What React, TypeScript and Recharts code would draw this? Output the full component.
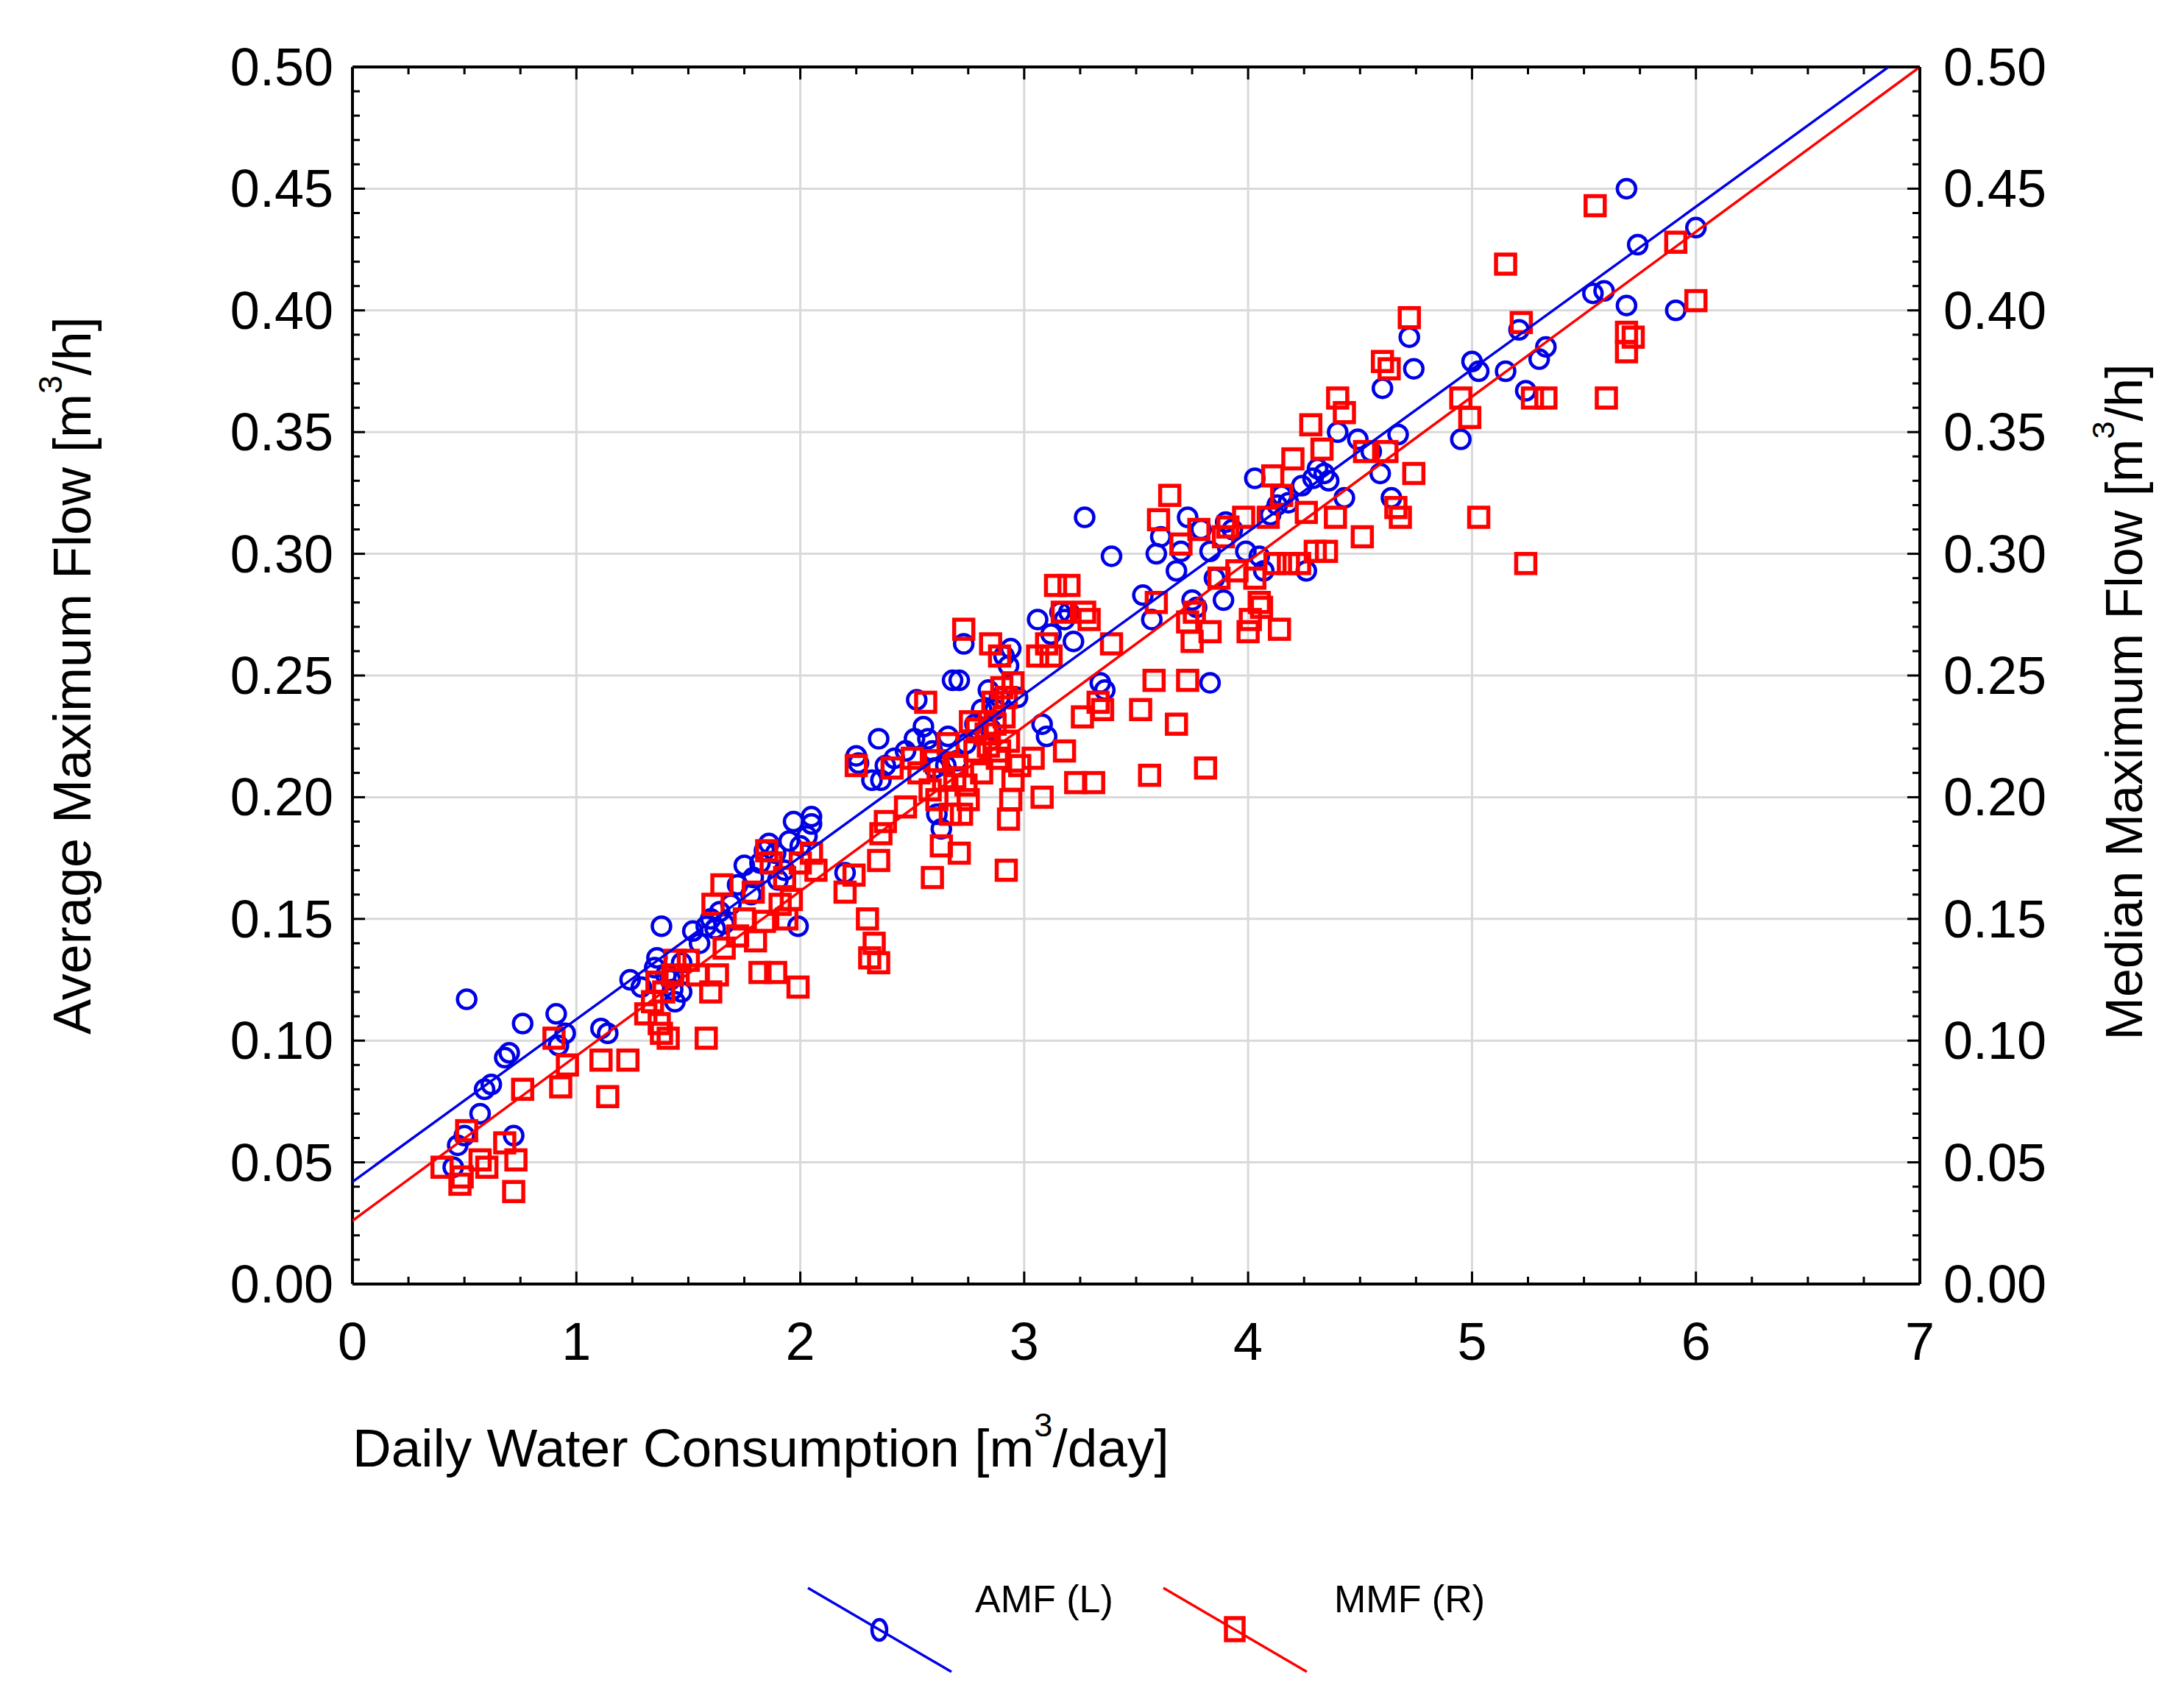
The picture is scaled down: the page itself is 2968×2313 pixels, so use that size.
import React from "react";
import { ScatterChart, Scatter, XAxis, YAxis, CartesianGrid } from "recharts";

// ---------- data ----------
const AMF_POINTS: [number, number][] = [
  [0.45, 0.048], [0.47, 0.057], [0.5, 0.061], [0.51, 0.117], [0.57, 0.07], [0.59, 0.08], [0.62, 0.082],
  [0.68, 0.093], [0.7, 0.095], [0.72, 0.061], [0.76, 0.107], [0.91, 0.111], [0.92, 0.098], [0.95, 0.103],
  [1.11, 0.105], [1.14, 0.103], [1.24, 0.125], [1.29, 0.122], [1.35, 0.13], [1.36, 0.134], [1.38, 0.147],
  [1.4, 0.127], [1.42, 0.125], [1.43, 0.121], [1.44, 0.116], [1.47, 0.12], [1.47, 0.132], [1.52, 0.145],
  [1.55, 0.14], [1.58, 0.147], [1.6, 0.15], [1.62, 0.146], [1.64, 0.153], [1.66, 0.148], [1.69, 0.156],
  [1.72, 0.164], [1.75, 0.172], [1.78, 0.16], [1.79, 0.167], [1.82, 0.173], [1.84, 0.178], [1.86, 0.181],
  [1.89, 0.177], [1.9, 0.166], [1.93, 0.17], [1.95, 0.182], [1.97, 0.19], [1.99, 0.147], [2.0, 0.18],
  [2.03, 0.184], [2.05, 0.189], [2.05, 0.192], [2.2, 0.169], [2.25, 0.217], [2.26, 0.214], [2.32, 0.207],
  [2.35, 0.224], [2.36, 0.207], [2.38, 0.213], [2.42, 0.216], [2.47, 0.219], [2.51, 0.224], [2.52, 0.24],
  [2.55, 0.229], [2.57, 0.224], [2.59, 0.219], [2.6, 0.212], [2.61, 0.193], [2.63, 0.187], [2.65, 0.213],
  [2.66, 0.225], [2.68, 0.248], [2.7, 0.215], [2.71, 0.248], [2.73, 0.263], [2.74, 0.222], [2.78, 0.23],
  [2.81, 0.236], [2.84, 0.244], [2.85, 0.228], [2.87, 0.236], [2.89, 0.241], [2.91, 0.258], [2.93, 0.254],
  [2.94, 0.261], [2.97, 0.241], [3.06, 0.273], [3.08, 0.23], [3.1, 0.225], [3.12, 0.267], [3.16, 0.276],
  [3.18, 0.273], [3.2, 0.276], [3.22, 0.264], [3.27, 0.315], [3.34, 0.247], [3.36, 0.244], [3.39, 0.299],
  [3.53, 0.283], [3.57, 0.273], [3.59, 0.3], [3.61, 0.307], [3.68, 0.293], [3.7, 0.301], [3.73, 0.315],
  [3.75, 0.281], [3.77, 0.278], [3.79, 0.31], [3.83, 0.301], [3.83, 0.247], [3.85, 0.29], [3.89, 0.281],
  [3.9, 0.313], [3.93, 0.31], [3.99, 0.301], [4.03, 0.331], [4.05, 0.299], [4.07, 0.293], [4.1, 0.316],
  [4.13, 0.32], [4.15, 0.324], [4.18, 0.321], [4.24, 0.328], [4.26, 0.293], [4.29, 0.331], [4.31, 0.335],
  [4.34, 0.333], [4.36, 0.33], [4.4, 0.35], [4.43, 0.323], [4.49, 0.347], [4.55, 0.342], [4.59, 0.333],
  [4.6, 0.368], [4.64, 0.323], [4.67, 0.349], [4.72, 0.389], [4.74, 0.376], [4.95, 0.347], [5.0, 0.379],
  [5.03, 0.375], [5.15, 0.375], [5.21, 0.392], [5.24, 0.367], [5.3, 0.38], [5.33, 0.385], [5.54, 0.407],
  [5.59, 0.408], [5.69, 0.402], [5.69, 0.45], [5.74, 0.427], [5.91, 0.4], [6.0, 0.434],
];

const MMF_POINTS: [number, number][] = [
  [0.4, 0.048], [0.48, 0.041], [0.49, 0.044], [0.51, 0.063], [0.57, 0.051], [0.6, 0.048], [0.68, 0.058],
  [0.72, 0.038], [0.73, 0.051], [0.76, 0.08], [0.9, 0.101], [0.93, 0.081], [0.96, 0.09], [1.11, 0.092],
  [1.14, 0.077], [1.23, 0.092], [1.31, 0.111], [1.34, 0.116], [1.36, 0.124], [1.37, 0.107], [1.38, 0.103],
  [1.39, 0.12], [1.41, 0.101], [1.43, 0.127], [1.44, 0.133], [1.5, 0.133], [1.54, 0.127], [1.58, 0.101],
  [1.6, 0.12], [1.61, 0.156], [1.63, 0.127], [1.65, 0.164], [1.66, 0.138], [1.72, 0.143], [1.75, 0.15],
  [1.79, 0.161], [1.8, 0.141], [1.82, 0.128], [1.84, 0.149], [1.85, 0.178], [1.87, 0.173], [1.89, 0.128],
  [1.91, 0.156], [1.93, 0.167], [1.94, 0.15], [1.96, 0.158], [1.99, 0.122], [2.0, 0.173], [2.05, 0.177],
  [2.07, 0.17], [2.2, 0.161], [2.24, 0.168], [2.25, 0.213], [2.3, 0.15], [2.31, 0.134], [2.33, 0.14],
  [2.35, 0.132], [2.35, 0.174], [2.36, 0.185], [2.38, 0.19], [2.41, 0.212], [2.47, 0.196], [2.5, 0.216],
  [2.53, 0.21], [2.56, 0.239], [2.58, 0.203], [2.59, 0.167], [2.6, 0.215], [2.61, 0.199], [2.63, 0.18],
  [2.64, 0.207], [2.66, 0.222], [2.67, 0.193], [2.69, 0.208], [2.7, 0.213], [2.71, 0.177], [2.72, 0.193],
  [2.73, 0.269], [2.74, 0.205], [2.75, 0.199], [2.76, 0.231], [2.78, 0.219], [2.79, 0.228], [2.81, 0.21],
  [2.83, 0.226], [2.84, 0.221], [2.85, 0.263], [2.86, 0.239], [2.87, 0.23], [2.88, 0.216], [2.89, 0.258],
  [2.89, 0.219], [2.9, 0.245], [2.91, 0.233], [2.92, 0.241], [2.92, 0.17], [2.93, 0.191], [2.93, 0.223],
  [2.94, 0.199], [2.95, 0.247], [2.95, 0.207], [2.98, 0.213], [3.04, 0.216], [3.06, 0.258], [3.08, 0.2],
  [3.1, 0.263], [3.12, 0.258], [3.14, 0.287], [3.17, 0.276], [3.18, 0.219], [3.2, 0.287], [3.23, 0.206],
  [3.26, 0.233], [3.27, 0.276], [3.29, 0.273], [3.31, 0.206], [3.33, 0.239], [3.35, 0.236], [3.39, 0.263],
  [3.52, 0.236], [3.56, 0.209], [3.58, 0.248], [3.59, 0.28], [3.6, 0.314], [3.65, 0.324], [3.68, 0.23],
  [3.7, 0.304], [3.73, 0.272], [3.73, 0.248], [3.75, 0.264], [3.76, 0.276], [3.78, 0.31], [3.81, 0.212],
  [3.83, 0.268], [3.87, 0.29], [3.89, 0.307], [3.91, 0.311], [3.95, 0.293], [3.98, 0.315], [4.0, 0.268],
  [4.01, 0.273], [4.03, 0.29], [4.05, 0.28], [4.06, 0.278], [4.09, 0.315], [4.11, 0.332], [4.12, 0.296],
  [4.14, 0.269], [4.15, 0.324], [4.18, 0.296], [4.2, 0.339], [4.23, 0.296], [4.26, 0.317], [4.28, 0.353],
  [4.3, 0.301], [4.33, 0.343], [4.35, 0.301], [4.39, 0.315], [4.4, 0.364], [4.43, 0.358], [4.51, 0.307],
  [4.52, 0.342], [4.6, 0.379], [4.62, 0.342], [4.63, 0.376], [4.66, 0.319], [4.68, 0.315], [4.72, 0.397],
  [4.74, 0.333], [4.95, 0.364], [4.99, 0.356], [5.03, 0.315], [5.15, 0.419], [5.22, 0.395], [5.24, 0.296],
  [5.27, 0.364], [5.33, 0.364], [5.55, 0.443], [5.6, 0.364], [5.69, 0.391], [5.69, 0.383], [5.72, 0.389],
  [5.91, 0.428], [6.0, 0.404],
];

// regression line end points
const AMF_FIT: [number, number][] = [[0, 0.042], [6.86, 0.5]];
const MMF_FIT: [number, number][] = [[0, 0.026], [7, 0.5]];

const X_MAJOR = [0, 1, 2, 3, 4, 5, 6, 7];
const X_TICKS = [
  0, 0.25, 0.5, 0.75, 1, 1.25, 1.5, 1.75, 2, 2.25, 2.5, 2.75, 3, 3.25, 3.5, 3.75, 4, 4.25, 4.5, 4.75, 5,
  5.25, 5.5, 5.75, 6, 6.25, 6.5, 6.75, 7,
];
const Y_MAJOR = [0, 0.05, 0.1, 0.15, 0.2, 0.25, 0.3, 0.35, 0.4, 0.45, 0.5];
const Y_TICKS = [
  0, 0.01, 0.02, 0.03, 0.04, 0.05, 0.06, 0.07, 0.08, 0.09, 0.1, 0.11, 0.12, 0.13, 0.14, 0.15, 0.16, 0.17,
  0.18, 0.19, 0.2, 0.21, 0.22, 0.23, 0.24, 0.25, 0.26, 0.27, 0.28, 0.29, 0.3, 0.31, 0.32, 0.33, 0.34, 0.35,
  0.36, 0.37, 0.38, 0.39, 0.4, 0.41, 0.42, 0.43, 0.44, 0.45, 0.46, 0.47, 0.48, 0.49, 0.5,
];

const X_TITLE = ["Daily Water Consumption [m", "3", "/day]"];
const YL_TITLE = ["Average Maximum Flow [m", "3", "/h]"];
const YR_TITLE = ["Median Maximum Flow [m", "3", "/h]"];

const SERIES = [
  { name: "AMF (L)", color: "#0000e6", marker: "circle" },
  { name: "MMF (R)", color: "#ff0000", marker: "square" },
];

// ---------- styles ----------
const W = 2968;
const H = 2313;
const FONT = "'Liberation Sans', Arial, Helvetica, sans-serif";
const FS = 72;
const BLUE = SERIES[0].color;
const RED = SERIES[1].color;

const toXY = (pts: [number, number][]) => pts.map(([x, y]) => ({ x, y }));
const isMajor = (v: number, majors: number[]) => majors.some((m) => Math.abs(m - v) < 1e-9);

const BottomTick = (p: any) => {
  const v = p.payload.value;
  const major = isMajor(v, X_MAJOR);
  return (
    <g>
      <line x1={p.x} x2={p.x} y1={p.y} y2={p.y - (major ? 17 : 10)} stroke="#000" strokeWidth={3} />
      {major && (
        <text x={p.x} y={p.y + 78} textAnchor="middle" dominantBaseline="central" fontFamily={FONT} fontSize={FS} fill="#000">
          {String(v)}
        </text>
      )}
    </g>
  );
};

const TopTick = (p: any) => {
  const major = isMajor(p.payload.value, X_MAJOR);
  return <line x1={p.x} x2={p.x} y1={p.y} y2={p.y + (major ? 17 : 10)} stroke="#000" strokeWidth={3} />;
};

const LeftTick = (p: any) => {
  const v = p.payload.value;
  const major = isMajor(v, Y_MAJOR);
  return (
    <g>
      <line x1={p.x} x2={p.x + (major ? 17 : 10)} y1={p.y} y2={p.y} stroke="#000" strokeWidth={3} />
      {major && (
        <text x={p.x - 26} y={p.y} textAnchor="end" dominantBaseline="central" fontFamily={FONT} fontSize={FS} fill="#000">
          {v.toFixed(2)}
        </text>
      )}
    </g>
  );
};

const RightTick = (p: any) => {
  const v = p.payload.value;
  const major = isMajor(v, Y_MAJOR);
  return (
    <g>
      <line x1={p.x} x2={p.x - (major ? 17 : 10)} y1={p.y} y2={p.y} stroke="#000" strokeWidth={3} />
      {major && (
        <text x={p.x + 32} y={p.y} textAnchor="start" dominantBaseline="central" fontFamily={FONT} fontSize={FS} fill="#000">
          {v.toFixed(2)}
        </text>
      )}
    </g>
  );
};

const Title = ({ parts, x, y, anchor, rotate, size }: any) => {
  const fs = size || FS;
  return (
    <text
      x={x}
      y={y}
      textAnchor={anchor}
      dominantBaseline="central"
      fontFamily={FONT}
      fontSize={fs}
      fill="#000"
      transform={rotate ? `rotate(-90, ${x}, ${y})` : undefined}
    >
      <tspan>{parts[0]}</tspan>
      <tspan dy={-fs * 0.42} fontSize={fs * 0.62}>{parts[1]}</tspan>
      <tspan dy={fs * 0.42}>{parts[2]}</tspan>
    </text>
  );
};

const Circle = (p: any) =>
  p.cx == null ? <g /> : <circle cx={p.cx} cy={p.cy} r={12.5} fill="none" stroke={BLUE} strokeWidth={4.5} />;
const Square = (p: any) =>
  p.cx == null ? <g /> : (
    <rect x={p.cx - 13} y={p.cy - 13} width={26} height={26} fill="none" stroke={RED} strokeWidth={5.5} />
  );
const NoShape = () => <g />;

const LegendOverlay = () => {
  const items = [
    { x0: 1098, tx: 1325 },
    { x0: 1581, tx: 1813 },
  ];
  return (
    <svg width={W} height={H} style={{ position: "absolute", left: 0, top: 0, pointerEvents: "none" }}>
      {SERIES.map((s, i) => {
        const { x0, tx } = items[i];
        const cx = x0 + 97;
        return (
          <g key={s.name}>
            <line x1={x0} y1={2158} x2={x0 + 195} y2={2272} stroke={s.color} strokeWidth={3.5} />
            {s.marker === "circle" ? (
              <ellipse cx={cx} cy={2215} rx={10} ry={14} fill="none" stroke={s.color} strokeWidth={4.5} />
            ) : (
              <rect x={cx - 12} y={2199} width={24} height={30} fill="none" stroke={s.color} strokeWidth={5.5} />
            )}
            <text x={tx} y={2173} dominantBaseline="central" fontFamily={FONT} fontSize={52} fill="#000">
              {s.name}
            </text>
          </g>
        );
      })}
    </svg>
  );
};

export default function App() {
  return (
    <div style={{ position: "absolute", left: 0, top: 0, width: W, height: H, background: "#fff" }}>
      <ScatterChart width={W} height={H} margin={{ top: 81, right: 159, bottom: 468, left: 279 }}>
        <CartesianGrid
          xAxisId="b"
          yAxisId="L"
          horizontalValues={Y_MAJOR}
          verticalValues={X_MAJOR}
          stroke="#d9d9d9"
          strokeWidth={3}
        />
        <XAxis
          xAxisId="b"
          dataKey="x"
          type="number"
          domain={[0, 7]}
          ticks={X_TICKS}
          interval={0}
          tickSize={0}
          tickMargin={0}
          tick={<BottomTick />}
          axisLine={{ stroke: "#000", strokeWidth: 4 }}
          height={100}
          allowDataOverflow
          label={{
            content: (props: any) => (
              <Title parts={X_TITLE} x={props.viewBox.x} y={props.viewBox.y + 222} anchor="start" size={73} />
            ),
          }}
        />
        <XAxis
          xAxisId="t"
          orientation="top"
          dataKey="x"
          type="number"
          domain={[0, 7]}
          ticks={X_TICKS}
          interval={0}
          tickSize={0}
          tickMargin={0}
          tick={<TopTick />}
          axisLine={{ stroke: "#000", strokeWidth: 4 }}
          height={10}
          allowDataOverflow
        />
        <YAxis
          yAxisId="L"
          dataKey="y"
          type="number"
          domain={[0, 0.5]}
          ticks={Y_TICKS}
          interval={0}
          tickSize={0}
          tickMargin={0}
          tick={<LeftTick />}
          axisLine={{ stroke: "#000", strokeWidth: 4 }}
          width={200}
          allowDataOverflow
          label={{
            content: (props: any) => (
              <Title
                parts={YL_TITLE}
                x={props.viewBox.x - 181}
                y={props.viewBox.y + props.viewBox.height / 2}
                anchor="middle"
                rotate
              />
            ),
          }}
        />
        <YAxis
          yAxisId="R"
          orientation="right"
          dataKey="y"
          type="number"
          domain={[0, 0.5]}
          ticks={Y_TICKS}
          interval={0}
          tickSize={0}
          tickMargin={0}
          tick={<RightTick />}
          axisLine={{ stroke: "#000", strokeWidth: 4 }}
          width={200}
          allowDataOverflow
          label={{
            content: (props: any) => (
              <Title
                parts={YR_TITLE}
                x={props.viewBox.x + 278}
                y={props.viewBox.y + props.viewBox.height / 2 + 36}
                anchor="middle"
                rotate
                size={70}
              />
            ),
          }}
        />
        <Scatter name="AMF (L)" xAxisId="b" yAxisId="L" data={toXY(AMF_POINTS)} shape={Circle} isAnimationActive={false} />
        <Scatter name="MMF (R)" xAxisId="b" yAxisId="R" data={toXY(MMF_POINTS)} shape={Square} isAnimationActive={false} />
        <Scatter
          xAxisId="b"
          yAxisId="L"
          data={toXY(AMF_FIT)}
          shape={NoShape}
          line={{ stroke: BLUE, strokeWidth: 3.5 }}
          isAnimationActive={false}
        />
        <Scatter
          xAxisId="b"
          yAxisId="R"
          data={toXY(MMF_FIT)}
          shape={NoShape}
          line={{ stroke: RED, strokeWidth: 3.5 }}
          isAnimationActive={false}
        />
      </ScatterChart>
      <LegendOverlay />
    </div>
  );
}
